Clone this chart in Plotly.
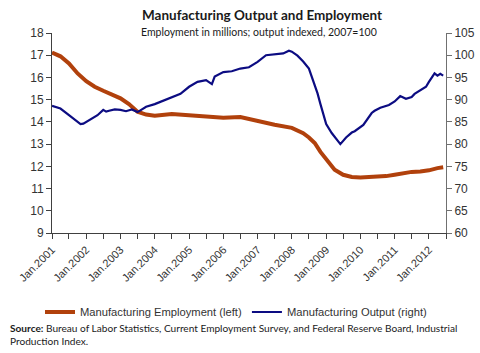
import plotly.graph_objects as go

# Manufacturing employment, millions (left axis)
emp_dates = ["2001-01-01", "2001-04-01", "2001-07-01", "2001-10-01", "2002-01-01", "2002-04-01",
             "2002-07-01", "2002-10-01", "2003-01-01", "2003-04-01", "2003-07-01", "2003-10-01",
             "2004-01-01", "2004-07-01", "2005-01-01", "2005-07-01", "2006-01-01", "2006-07-01",
             "2007-01-01", "2007-07-01", "2008-01-01", "2008-05-01", "2008-07-01", "2008-09-01",
             "2008-11-01", "2009-01-01", "2009-04-01", "2009-07-01", "2009-10-01", "2010-01-01",
             "2010-04-01", "2010-07-01", "2010-10-01", "2011-01-01", "2011-04-01", "2011-07-01",
             "2011-10-01", "2012-01-01", "2012-04-01", "2012-06-01"]
emp_values = [17.12, 16.95, 16.63, 16.18, 15.83, 15.58,
              15.40, 15.25, 15.06, 14.80, 14.46, 14.33,
              14.28, 14.35, 14.30, 14.22, 14.19, 14.22,
              14.02, 13.87, 13.73, 13.49, 13.30, 13.05,
              12.65, 12.30, 11.85, 11.62, 11.52, 11.50,
              11.51, 11.55, 11.56, 11.62, 11.70, 11.75,
              11.77, 11.82, 11.92, 11.96]

# Manufacturing output index, 2007=100 (right axis)
out_dates = ["2001-01-01", "2001-04-01", "2001-07-01", "2001-10-01", "2001-11-01", "2001-12-01",
             "2002-01-01", "2002-03-01", "2002-05-01", "2002-07-01", "2002-08-01", "2002-09-01",
             "2002-11-01", "2003-01-01", "2003-03-01", "2003-05-01", "2003-07-01", "2003-08-01",
             "2003-10-01", "2004-01-01", "2004-04-01", "2004-07-01", "2004-10-01", "2005-01-01",
             "2005-04-01", "2005-07-01", "2005-09-01", "2005-10-01", "2006-01-01", "2006-04-01",
             "2006-07-01", "2006-10-01", "2007-01-01", "2007-04-01", "2007-07-01", "2007-10-01",
             "2007-12-01", "2008-01-01", "2008-03-01", "2008-05-01", "2008-07-01", "2008-09-01",
             "2008-10-01", "2008-11-01", "2008-12-01", "2009-01-01", "2009-03-01", "2009-04-01",
             "2009-05-01", "2009-06-01", "2009-08-01", "2009-10-01", "2009-11-01", "2010-02-01",
             "2010-05-01", "2010-06-01", "2010-08-01", "2010-11-01", "2011-01-01", "2011-03-01",
             "2011-05-01", "2011-07-01", "2011-08-01", "2011-11-01", "2011-12-01", "2012-01-01",
             "2012-02-01", "2012-03-01", "2012-04-01", "2012-05-01", "2012-06-01"]
out_values = [88.6, 88.0, 86.5, 85.0, 84.5, 84.6,
              85.0, 85.7, 86.5, 87.7, 87.3, 87.5,
              87.8, 87.7, 87.4, 87.8, 87.2, 87.6,
              88.4, 89.0, 89.8, 90.5, 91.3, 92.9,
              94.0, 94.4, 93.5, 95.2, 96.2, 96.4,
              97.0, 97.3, 98.5, 100.0, 100.2, 100.4,
              101.0, 100.8, 99.9, 98.6, 97.0, 93.5,
              91.4, 89.0, 86.8, 84.5, 82.5, 81.7,
              81.0, 80.0, 81.5, 82.6, 82.9, 84.3,
              87.0, 87.5, 88.2, 88.8, 89.6, 90.8,
              90.2, 90.6, 91.3, 92.5, 92.9, 94.0,
              95.0, 95.9, 95.4, 95.8, 95.4]

years = list(range(2001, 2013))
tick_vals = []
tick_text = []
for y in years:
    tick_vals.append(f"{y}-01-01")
    tick_text.append(f"Jan.{y}")
    tick_vals.append(f"{y}-07-01")
    tick_text.append("")

EMP_COLOR = "#B1410C"
OUT_COLOR = "#0C0C82"

fig = go.Figure()
fig.add_trace(go.Scatter(x=emp_dates, y=emp_values, mode="lines", name="Manufacturing Employment (left)",
                         line=dict(color=EMP_COLOR, width=4), yaxis="y"))
fig.add_trace(go.Scatter(x=out_dates, y=out_values, mode="lines", name="Manufacturing Output (right)",
                         line=dict(color=OUT_COLOR, width=2.2), yaxis="y2"))

tick_font = dict(family="Liberation Sans, Arial", size=12, color="#333333")
PH = 200.0  # plot height in px
PW = 394.0  # plot width in px

fig.update_layout(
    width=480, height=353,
    margin=dict(l=52, r=34, t=33, b=120, autoexpand=False),
    paper_bgcolor="white", plot_bgcolor="white",
    showlegend=True,
    legend=dict(orientation="h", xref="paper", x=(40 - 52) / PW, xanchor="left",
                yref="paper", y=(233 - 312) / PH, yanchor="middle",
                font=dict(family="Liberation Sans, Arial", size=11.2, color="#333333"),
                itemwidth=30, tracegroupgap=0, bgcolor="rgba(0,0,0,0)", borderwidth=0),
    xaxis=dict(type="date", range=["2001-01-01", "2012-07-01"], tickmode="array",
               tickvals=tick_vals, ticktext=tick_text, tickangle=-45,
               showline=True, linecolor="#404040", linewidth=1, ticks="outside", ticklen=5,
               tickcolor="#404040", showgrid=False, zeroline=False,
               tickfont=dict(family="Liberation Sans, Arial", size=11, color="#333333")),
    yaxis=dict(range=[9, 18], dtick=1, showline=True, linecolor="#404040", linewidth=1,
               ticks="outside", ticklen=5, tickcolor="#404040", showgrid=False, zeroline=False,
               tickfont=tick_font),
    yaxis2=dict(range=[60, 105], dtick=5, overlaying="y", side="right", showline=True,
                linecolor="#707070", linewidth=1, ticks="outside", ticklen=5, tickcolor="#707070",
                showgrid=False, zeroline=False, tickfont=tick_font),
    annotations=[
        dict(text="<b>Manufacturing Output and Employment</b>", xref="paper", yref="paper",
             x=(262 - 52) / PW, y=1, yanchor="bottom", yshift=8, showarrow=False,
             font=dict(family="Lato, Open Sans", size=13.5, color="#1a1a1a")),
        dict(text="Employment in millions; output indexed, 2007=100", xref="paper", yref="paper",
             x=(259 - 52) / PW, y=1, yanchor="bottom", yshift=-7, showarrow=False,
             font=dict(family="Lato, Open Sans", size=10.5, color="#1a1a1a")),
        dict(text="<b>Source:</b> Bureau of Labor Statistics, Current Employment Survey, and Federal Reserve Board, Industrial<br>Production Index.",
             xref="paper", yref="paper", x=(8 - 52) / PW, y=(233 - 320) / PH, xanchor="left", yanchor="top",
             align="left", showarrow=False,
             font=dict(family="Lato, Open Sans", size=10.1, color="#1a1a1a")),
    ],
)

fig.write_html("out.html")
